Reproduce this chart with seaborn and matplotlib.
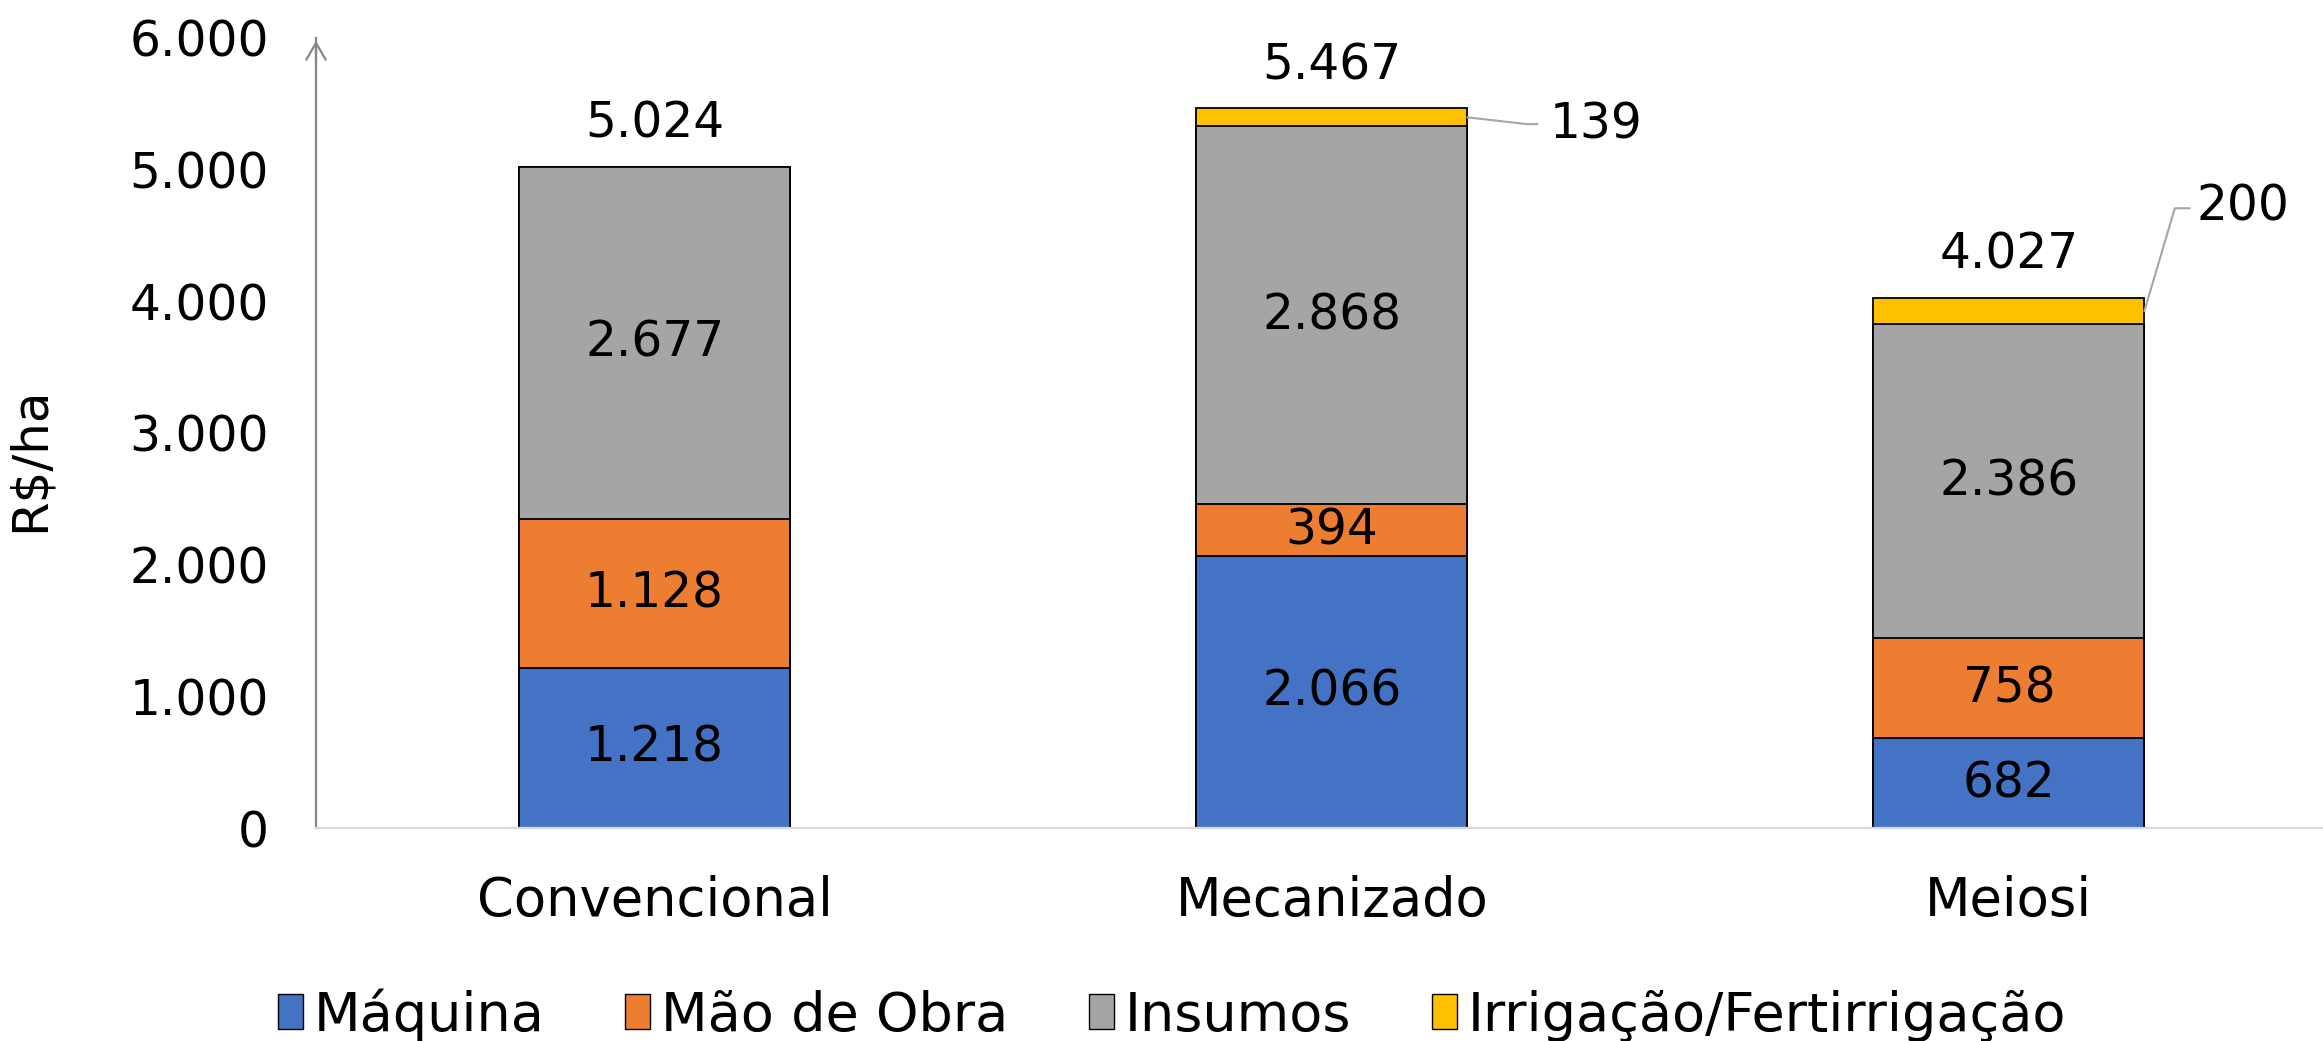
import matplotlib
matplotlib.use('Agg')
import matplotlib.pyplot as plt
import matplotlib.patches as mpatches
from matplotlib.ticker import FuncFormatter
import numpy as np
import seaborn as sns

# Data (R$/ha)
categorias = ['Convencional', 'Mecanizado', 'Meiosi']
maquina = [1218, 2066, 682]
mao_de_obra = [1128, 394, 758]
insumos = [2677, 2868, 2386]
irrigacao = [0, 139, 200]
totais = [5024, 5467, 4027]

series_nomes = ['Máquina', 'Mão de Obra', 'Insumos', 'Irrigação/Fertirrigação']
cores = ['#4472C4', '#ED7D31', '#A5A5A5', '#FFC000']

sns.set_style('white')
plt.rcParams['font.family'] = ['DejaVu Sans']
plt.rcParams['text.color'] = 'black'
plt.rcParams['xtick.color'] = 'black'
plt.rcParams['ytick.color'] = 'black'

fig = plt.figure(figsize=(23.23, 10.41), dpi=100)
ax = fig.add_axes([316 / 2323, 1 - 828 / 1041, 1 - 316 / 2323, (828 - 38) / 1041])

camadas = [maquina, mao_de_obra, insumos, irrigacao]
acumulado = np.cumsum(np.array(camadas), axis=0)

# draw cumulative bars from the top layer down so each lower one covers the upper
for k in range(len(camadas) - 1, -1, -1):
    sns.barplot(x=categorias, y=acumulado[k], color=cores[k], saturation=1,
                width=0.4, edgecolor='black', linewidth=1.3, ax=ax)

ax.set_xlim(-0.5, (2323 - 655) / 677)
ax.set_ylim(0, 6000)
ax.set_yticks(np.arange(0, 6001, 1000))
ax.yaxis.set_major_formatter(FuncFormatter(lambda v, p: f'{int(v):,}'.replace(',', '.')))
ax.tick_params(axis='both', length=0, labelsize=35)
ax.tick_params(axis='y', pad=34)
ax.tick_params(axis='x', pad=34, labelsize=38)
ax.set_xlabel('')
ax.set_ylabel('')

for s in ['top', 'right']:
    ax.spines[s].set_visible(False)
ax.spines['left'].set_color('#868686')
ax.spines['left'].set_linewidth(1.6)
ax.spines['bottom'].set_color('#D9D9D9')
ax.spines['bottom'].set_linewidth(1.6)

# arrow head on the y axis
ax.annotate('', xy=(0, 1.0), xytext=(0, 0.97), xycoords='axes fraction',
            arrowprops=dict(arrowstyle='->,head_length=0.6,head_width=0.35',
                            color='#868686', lw=1.6, mutation_scale=20),
            annotation_clip=False)

fig.text(30 / 2323, 1 - 459 / 1041, 'R$/ha', rotation=90, ha='center', va='center', fontsize=36)

def fmt(v):
    return f'{int(v):,}'.replace(',', '.')

# segment labels (first three layers)
for k in range(3):
    for i, v in enumerate(camadas[k]):
        base = acumulado[k][i] - v
        ax.text(i, base + v / 2, fmt(v), ha='center', va='center', fontsize=35)

# totals above bars
for i, t in enumerate(totais):
    ax.annotate(fmt(t), xy=(i, acumulado[-1][i]), xytext=(0, 31), textcoords='offset points',
                ha='center', va='center', fontsize=35, annotation_clip=False)

# irrigation labels with leader lines
lider_pontos = {1: [(1.288, 5346), (1.304, 5346)], 2: [(2.245, 4707), (2.267, 4707)]}
rotulo_pos = {1: (1.322, 5346), 2: (2.277, 4722)}
for i, pts in lider_pontos.items():
    y_mid = acumulado[2][i] + irrigacao[i] / 2
    xs = [i + 0.2] + [p[0] for p in pts]
    ys = [y_mid] + [p[1] for p in pts]
    ax.plot(xs, ys, color='#A6A6A6', lw=1.5, clip_on=False)
    ax.text(rotulo_pos[i][0], rotulo_pos[i][1], fmt(irrigacao[i]), ha='left', va='center',
            fontsize=35, clip_on=False)

handles = [mpatches.Patch(facecolor=c, edgecolor='black', linewidth=1.0) for c in cores]
fig.legend(handles, series_nomes, loc='center', bbox_to_anchor=(1172 / 2323, 1 - 1015 / 1041),
           ncol=4, frameon=False, fontsize=39, handlelength=0.45, handleheight=0.6,
           handletextpad=0.2, columnspacing=1.5)

fig.savefig('out.png', dpi=100)
